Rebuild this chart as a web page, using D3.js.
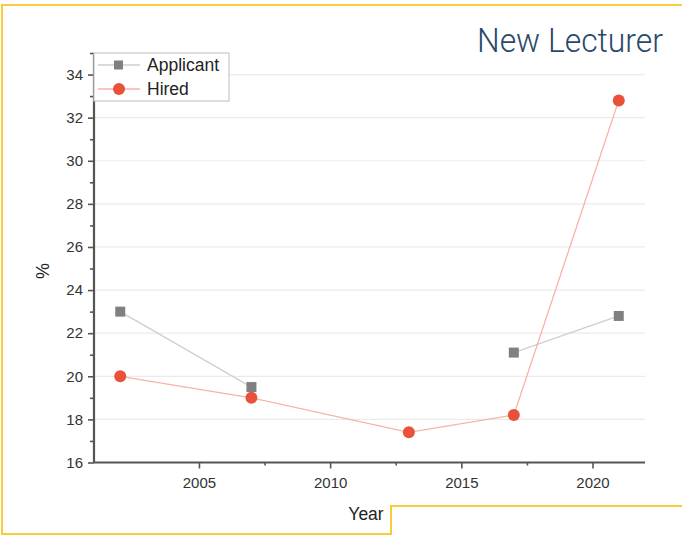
<!DOCTYPE html>
<html>
<head>
<meta charset="utf-8">
<script src="https://cdn.jsdelivr.net/npm/d3@7"></script>
<style>
  body { margin: 0; background: #fff; }
  svg { display: block; }
</style>
</head>
<body>
<div id="chart"><svg width="682" height="536"></svg></div>
<script>
'use strict';

var applicantYears = [2002, 2007, null, 2017, 2021];
var applicantValues = [23, 19.5, null, 21.1, 22.8];
var hiredYears = [2002, 2007, 2013, 2017, 2021];
var hiredValues = [20, 19, 17.4, 18.2, 32.8];
var xTicks = [2005, 2010, 2015, 2020];
var yTicks = [16, 18, 20, 22, 24, 26, 28, 30, 32, 34];

var svg = d3.select('#chart svg');

// frame
svg.append('path')
  .attr('d', 'M682,5 H2 V534 H391 V506 H682')
  .attr('fill', 'none')
  .attr('stroke', '#f6cc3c')
  .attr('stroke-width', 2);

var x = d3.scaleLinear().domain([2001, 2022]).range([94, 645]);
var y = d3.scaleLinear().domain([16, 35]).range([462.5, 53]);

// grid
svg.append('g').selectAll('line')
  .data(yTicks)
  .enter().append('line')
  .attr('x1', 94).attr('x2', 645)
  .attr('y1', function(d) { return y(d); })
  .attr('y2', function(d) { return y(d); })
  .attr('stroke', '#ebebeb')
  .attr('stroke-width', 1.2);

// axes
var xAxis = svg.append('g').attr('transform', 'translate(0,' + y(16) + ')')
  .call(d3.axisBottom(x).tickValues(xTicks).tickFormat(d3.format('d')).tickSize(6).tickPadding(9));
svg.append('g').attr('transform', 'translate(0,' + y(16) + ')')
  .call(d3.axisBottom(x).tickValues([2007.5, 2012.5, 2017.5]).tickFormat('').tickSize(3))
  .select('.domain').remove();
var yAxis = svg.append('g').attr('transform', 'translate(' + x(2001) + ',0)')
  .call(d3.axisLeft(y).tickValues(yTicks).tickSize(6).tickPadding(5));
svg.append('g').attr('transform', 'translate(' + x(2001) + ',0)')
  .call(d3.axisLeft(y).tickValues([17, 19, 21, 23, 25, 27, 29, 31, 33, 35]).tickFormat('').tickSize(4))
  .select('.domain').remove();

svg.selectAll('.domain').attr('stroke', '#555').attr('stroke-width', 2.2);
svg.selectAll('.tick line').attr('stroke', '#555').attr('stroke-width', 1.6);
svg.selectAll('.tick text')
  .attr('fill', '#333')
  .style('font-family', 'Liberation Sans, Arial, sans-serif')
  .style('font-size', '15px');
xAxis.selectAll('.domain').attr('d', 'M' + x(2001) + ',0H' + x(2022));
yAxis.selectAll('.domain').attr('d', 'M0,' + y(16) + 'V' + y(35));

// series
var applicant = applicantYears.map(function(yr, i) { return { x: yr, y: applicantValues[i] }; });
var hired = hiredYears.map(function(yr, i) { return { x: yr, y: hiredValues[i] }; });

var line = d3.line()
  .defined(function(d) { return d.x !== null; })
  .x(function(d) { return x(d.x); })
  .y(function(d) { return y(d.y); });

svg.append('path').datum(applicant)
  .attr('d', line).attr('fill', 'none')
  .attr('stroke', '#cfcfcf').attr('stroke-width', 1.3);
svg.append('path').datum(hired)
  .attr('d', line).attr('fill', 'none')
  .attr('stroke', '#f7b3a6').attr('stroke-width', 1.3);

svg.append('g').selectAll('rect')
  .data(applicant.filter(function(d) { return d.x !== null; }))
  .enter().append('rect')
  .attr('x', function(d) { return x(d.x) - 5; })
  .attr('y', function(d) { return y(d.y) - 5; })
  .attr('width', 10).attr('height', 10)
  .attr('fill', '#808080');
svg.append('g').selectAll('circle')
  .data(hired)
  .enter().append('circle')
  .attr('cx', function(d) { return x(d.x); })
  .attr('cy', function(d) { return y(d.y); })
  .attr('r', 6)
  .attr('fill', '#e9513a');

// legend
var lg = svg.append('g');
lg.append('rect')
  .attr('x', 94).attr('y', 53).attr('width', 135).attr('height', 48)
  .attr('fill', '#fff').attr('stroke', '#c8c8c8').attr('stroke-width', 1.2);
lg.append('line').attr('x1', 98).attr('x2', 140).attr('y1', 65).attr('y2', 65)
  .attr('stroke', '#cfcfcf').attr('stroke-width', 1.3);
lg.append('rect').attr('x', 114).attr('y', 60.5).attr('width', 9).attr('height', 9).attr('fill', '#808080');
lg.append('line').attr('x1', 98).attr('x2', 140).attr('y1', 89).attr('y2', 89)
  .attr('stroke', '#f7b3a6').attr('stroke-width', 1.3);
lg.append('circle').attr('cx', 119).attr('cy', 89).attr('r', 6).attr('fill', '#e9513a');
lg.selectAll('text')
  .data(['Applicant', 'Hired'])
  .enter().append('text')
  .attr('x', 147)
  .attr('y', function(d, i) { return 71 + i * 24; })
  .attr('fill', '#222')
  .style('font-family', 'Liberation Sans, Arial, sans-serif')
  .style('font-size', '17.5px')
  .text(function(d) { return d; });

// axis titles
svg.append('text')
  .attr('x', 366).attr('y', 520)
  .attr('text-anchor', 'middle')
  .attr('fill', '#222')
  .style('font-family', 'Liberation Sans, Arial, sans-serif')
  .style('font-size', '17.5px')
  .text('Year');
svg.append('text')
  .attr('transform', 'translate(49,271) rotate(-90)')
  .attr('text-anchor', 'middle')
  .attr('fill', '#222')
  .style('font-family', 'Liberation Sans, Arial, sans-serif')
  .style('font-size', '18px')
  .text('%');

// title
svg.append('text')
  .attr('x', 663).attr('y', 52)
  .attr('text-anchor', 'end')
  .attr('fill', '#2b4a6b')
  .style('font-family', 'Roboto, sans-serif')
  .style('font-weight', 300)
  .style('font-size', '33px')
  .attr('textLength', 186)
  .attr('lengthAdjust', 'spacingAndGlyphs')
  .text('New Lecturer');
</script>
</body>
</html>
